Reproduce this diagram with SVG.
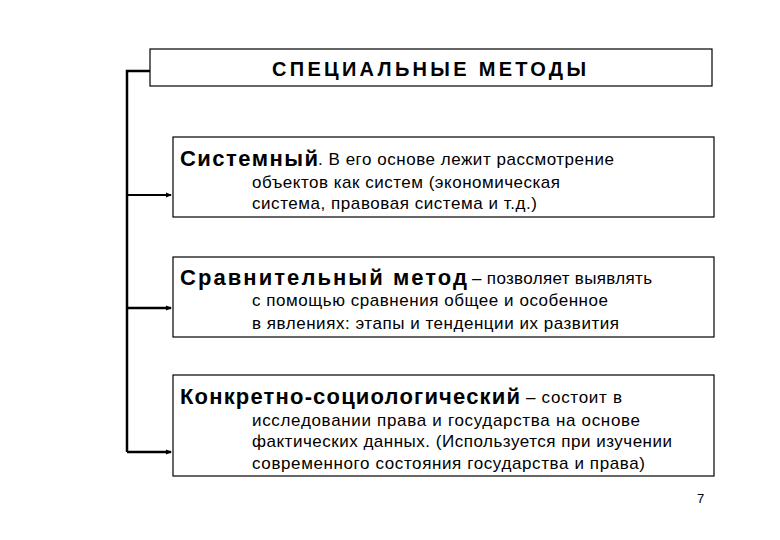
<svg xmlns="http://www.w3.org/2000/svg" width="780" height="540" viewBox="0 0 780 540">
<style>
.box{fill:#fff;stroke:#000;stroke-width:1.2}
text{font-family:"Liberation Sans",Arial,sans-serif;fill:#000}
.t{font-size:17px}
.b{font-size:22px;font-weight:bold}
.h{font-size:20px;font-weight:bold}
.c{stroke:#000;stroke-width:2.5;fill:none}
</style>
<defs><marker id="a" markerWidth="6" markerHeight="6" refX="5" refY="3" orient="auto" markerUnits="userSpaceOnUse"><path d="M0,0.5 L6,3 L0,5.5 Z" fill="#000"/></marker></defs>
<rect width="780" height="540" fill="#fff"/>
<g id="connectors">
<path class="c" d="M150,71 H127 V452"/>
<line class="c" x1="127" y1="195" x2="171" y2="195" style="stroke-width:1.8" marker-end="url(#a)"/>
<line class="c" x1="127" y1="308" x2="171" y2="308" marker-end="url(#a)"/>
<line class="c" x1="127" y1="452" x2="171" y2="452" marker-end="url(#a)"/>
</g>
<g id="title"><rect class="box" x="150" y="49" width="562" height="37"/><text class="h" x="272" y="76" textLength="314" lengthAdjust="spacing">СПЕЦИАЛЬНЫЕ  МЕТОДЫ</text></g>
<g id="n1"><rect class="box" x="173" y="137" width="541" height="80"/>
<text class="b" x="180" y="166" textLength="138" lengthAdjust="spacing">Системный</text>
<text class="t" x="318" y="165" textLength="296" lengthAdjust="spacing">. В его основе лежит рассмотрение</text>
<text class="t" x="252" y="188" textLength="308" lengthAdjust="spacing">объектов как систем (экономическая</text>
<text class="t" x="252" y="209" textLength="285" lengthAdjust="spacing">система, правовая система и т.д.)</text></g>
<g id="n2"><rect class="box" x="173" y="257" width="541" height="80"/>
<text class="b" x="180" y="285" textLength="287" lengthAdjust="spacing">Сравнительный метод</text>
<text class="t" x="472" y="284" textLength="180" lengthAdjust="spacing">–  позволяет выявлять</text>
<text class="t" x="252" y="306" textLength="356" lengthAdjust="spacing">с помощью сравнения общее и особенное</text>
<text class="t" x="252" y="329" textLength="367" lengthAdjust="spacing">в явлениях: этапы и тенденции их развития</text></g>
<g id="n3"><rect class="box" x="173" y="375" width="541" height="101"/>
<text class="b" x="180" y="404" textLength="340" lengthAdjust="spacing">Конкретно-социологический</text>
<text class="t" x="526" y="403" textLength="96" lengthAdjust="spacing">– состоит в</text>
<text class="t" x="252" y="426" textLength="388" lengthAdjust="spacing">исследовании  права и государства на основе</text>
<text class="t" x="252" y="447" textLength="420" lengthAdjust="spacing">фактических данных. (Используется при изучении</text>
<text class="t" x="252" y="469" textLength="393" lengthAdjust="spacing">современного состояния государства и права)</text></g>
<text x="697" y="503" style="font-size:13px">7</text>
</svg>
